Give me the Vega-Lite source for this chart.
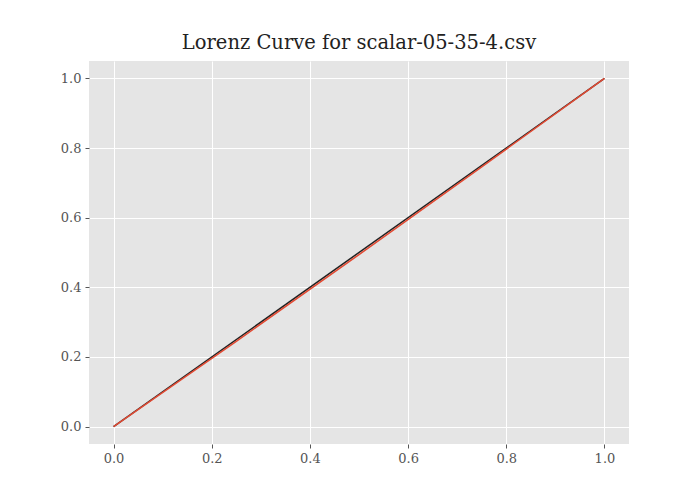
{
  "$schema": "https://vega.github.io/schema/vega-lite/v6.json",
  "width": 540,
  "height": 383,
  "autosize": "none",
  "padding": {"left": 89, "top": 61, "right": 71, "bottom": 56},
  "background": "white",
  "config": {
    "font": "DejaVu Serif",
    "view": {"fill": "#E5E5E5", "stroke": null},
    "axis": {
      "grid": true, "gridColor": "white", "gridWidth": 1,
      "domain": false, "tickColor": "#555555", "tickSize": 4,
      "labelColor": "#555555", "labelFontSize": 13, "labelFont": "DejaVu Serif",
      "title": null, "format": ".1f", "labelPadding": 4
    }
  },
  "title": {"text": "Lorenz Curve for scalar-05-35-4.csv", "fontSize": 19.5, "fontWeight": "normal", "font": "DejaVu Serif", "color": "#222222", "offset": 8},
  "data": {"values": [
    {"x": 0, "y": 0, "s": "equality"},
    {"x": 1, "y": 1, "s": "equality"},
    {"x": 0, "y": 0, "s": "lorenz"},
    {"x": 0.25, "y": 0.245, "s": "lorenz"},
    {"x": 0.5, "y": 0.494, "s": "lorenz"},
    {"x": 0.75, "y": 0.746, "s": "lorenz"},
    {"x": 1, "y": 1, "s": "lorenz"}
  ]},
  "mark": {"type": "line", "strokeWidth": 1.5},
  "encoding": {
    "x": {"field": "x", "type": "quantitative", "scale": {"domain": [-0.05, 1.05], "nice": false, "zero": false}, "axis": {"values": [0, 0.2, 0.4, 0.6, 0.8, 1.0]}},
    "y": {"field": "y", "type": "quantitative", "scale": {"domain": [-0.05, 1.05], "nice": false, "zero": false}, "axis": {"values": [0, 0.2, 0.4, 0.6, 0.8, 1.0]}},
    "color": {"field": "s", "type": "nominal", "scale": {"domain": ["equality", "lorenz"], "range": ["#222222", "#E24A33"]}, "legend": null},
    "order": {"field": "s"}
  }
}
